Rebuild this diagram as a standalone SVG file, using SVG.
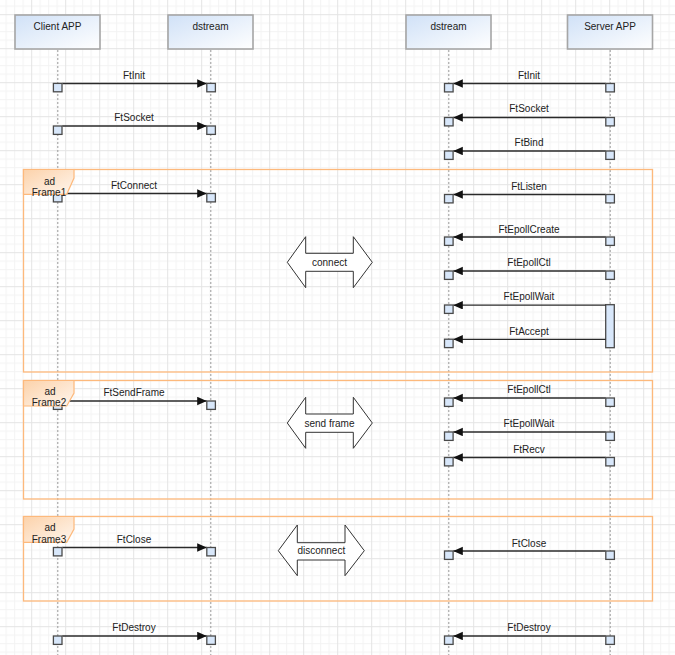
<svg xmlns="http://www.w3.org/2000/svg" width="675" height="655" viewBox="0 0 675 655">
<style>
text{font-family:"Liberation Sans",Arial,sans-serif;font-size:10px;fill:#222;text-anchor:middle}
.hdr{fill:url(#boxg);stroke:#a6a6a6;stroke-width:1.6}
.life{stroke:#9a9a9a;stroke-width:1;stroke-dasharray:2,2;fill:none}
.frm{fill:none;stroke:#fdb97c;stroke-width:1.3}
.tab{fill:url(#tabg);stroke:#fdb97c;stroke-width:1.2}
.msg{stroke:#2a2a2a;stroke-width:1.3;fill:none;marker-end:url(#ah)}
.sq{fill:#d8e7fa;stroke:#4a4a4a;stroke-width:1.3}
.dbl{fill:#fff;stroke:#333;stroke-width:1}
</style>
<defs>
<pattern id="grid" width="34" height="34" patternUnits="userSpaceOnUse" x="-2.8" y="14.2">
<rect width="34" height="34" fill="#fff"/>
<rect x="8.5" y="0" width="1" height="34" fill="#f3f3f3"/>
<rect x="17" y="0" width="1" height="34" fill="#f3f3f3"/>
<rect x="25.5" y="0" width="1" height="34" fill="#f3f3f3"/>
<rect x="0" y="8.5" width="34" height="1" fill="#f3f3f3"/>
<rect x="0" y="17" width="34" height="1" fill="#f3f3f3"/>
<rect x="0" y="25.5" width="34" height="1" fill="#f3f3f3"/>
<rect x="0" y="0" width="1" height="34" fill="#e4e4e4"/>
<rect x="0" y="0" width="34" height="1" fill="#e4e4e4"/>
</pattern>
<linearGradient id="boxg" x1="0" y1="0" x2="1" y2="1">
<stop offset="0" stop-color="#d0e1f7"/>
<stop offset="1" stop-color="#ffffff"/>
</linearGradient>
<linearGradient id="tabg" x1="0" y1="0" x2="1" y2="1">
<stop offset="0" stop-color="#fcd2aa"/>
<stop offset="1" stop-color="#fff6ee"/>
</linearGradient>
<marker id="ah" markerUnits="userSpaceOnUse" markerWidth="10" markerHeight="9" refX="9.5" refY="4.25" orient="auto">
<path d="M0,0 L9.5,4.25 L0,8.5 Z" fill="#111"/>
</marker>
</defs>
<rect width="675" height="655" fill="url(#grid)"/>

<g id="lifeline-client">
<rect class="hdr" x="15" y="15" width="85" height="34"/>
<text x="57.5" y="30.3">Client APP</text>
<line class="life" x1="57.8" y1="50" x2="57.8" y2="655"/>
</g>
<g id="lifeline-dstream-left">
<rect class="hdr" x="168" y="15" width="85" height="34"/>
<text x="210.5" y="30.3">dstream</text>
<line class="life" x1="210.8" y1="50" x2="210.8" y2="655"/>
</g>
<g id="lifeline-dstream-right">
<rect class="hdr" x="406" y="15" width="85" height="34"/>
<text x="448.5" y="30.3">dstream</text>
<line class="life" x1="448.8" y1="50" x2="448.8" y2="655"/>
</g>
<g id="lifeline-server">
<rect class="hdr" x="567.5" y="15" width="85" height="34"/>
<text x="610" y="30.3">Server APP</text>
<line class="life" x1="610.2" y1="50" x2="610.2" y2="655"/>
</g>

<g id="frame1-box"><rect class="frm" x="23.5" y="169.5" width="629" height="202.5"/></g>
<g id="frame2-box"><rect class="frm" x="23.5" y="380.5" width="629" height="118.5"/></g>
<g id="frame3-box"><rect class="frm" x="23.5" y="516.5" width="629" height="84.5"/></g>

<g id="activation-server">
<rect class="sq" x="605.7" y="304.7" width="8.6" height="43"/>
</g>

<g id="connectors">
<!-- client to dstream -->
<line class="msg" x1="62.3" y1="83.5" x2="206.7" y2="83.5"/>
<line class="msg" x1="62.3" y1="126" x2="206.7" y2="126"/>
<line class="msg" x1="62.3" y1="193.5" x2="206.7" y2="193.5"/>
<line class="msg" x1="62.3" y1="401" x2="206.7" y2="401"/>
<line class="msg" x1="62.3" y1="547.5" x2="206.7" y2="547.5"/>
<line class="msg" x1="62.3" y1="636" x2="206.7" y2="636"/>
<!-- server to dstream -->
<line class="msg" x1="605.7" y1="83.5" x2="453.3" y2="83.5"/>
<line class="msg" x1="605.7" y1="117.5" x2="453.3" y2="117.5"/>
<line class="msg" x1="605.7" y1="151" x2="453.3" y2="151"/>
<line class="msg" x1="605.7" y1="194.5" x2="453.3" y2="194.5"/>
<line class="msg" x1="605.7" y1="237" x2="453.3" y2="237"/>
<line class="msg" x1="605.7" y1="271" x2="453.3" y2="271"/>
<line class="msg" x1="605.7" y1="305.2" x2="453.3" y2="305.2"/>
<line class="msg" x1="605.7" y1="339.3" x2="453.3" y2="339.3"/>
<line class="msg" x1="605.7" y1="398" x2="453.3" y2="398"/>
<line class="msg" x1="605.7" y1="432" x2="453.3" y2="432"/>
<line class="msg" x1="605.7" y1="457.5" x2="453.3" y2="457.5"/>
<line class="msg" x1="605.7" y1="551" x2="453.3" y2="551"/>
<line class="msg" x1="605.7" y1="636" x2="453.3" y2="636"/>

<text x="134" y="78.5">FtInit</text>
<text x="134" y="121.3">FtSocket</text>
<text x="134" y="189.3">FtConnect</text>
<text x="134" y="396.3">FtSendFrame</text>
<text x="134" y="542.6">FtClose</text>
<text x="134" y="630.6">FtDestroy</text>

<text x="529" y="78.6">FtInit</text>
<text x="529" y="111.9">FtSocket</text>
<text x="529" y="145.9">FtBind</text>
<text x="529" y="190.3">FtListen</text>
<text x="529" y="232.6">FtEpollCreate</text>
<text x="529" y="266.3">FtEpollCtl</text>
<text x="529" y="300.3">FtEpollWait</text>
<text x="529" y="334.6">FtAccept</text>
<text x="529" y="392.9">FtEpollCtl</text>
<text x="529" y="426.9">FtEpollWait</text>
<text x="529" y="452.6">FtRecv</text>
<text x="529" y="546.6">FtClose</text>
<text x="529" y="630.6">FtDestroy</text>
</g>

<g id="execution-squares">
<rect class="sq" x="53.4" y="83.4" width="8.6" height="8.4"/>
<rect class="sq" x="206.8" y="83.4" width="8.6" height="8.4"/>
<rect class="sq" x="53.4" y="126" width="8.6" height="8.4"/>
<rect class="sq" x="206.8" y="126" width="8.6" height="8.4"/>
<rect class="sq" x="53.4" y="193.5" width="8.6" height="8.4"/>
<rect class="sq" x="206.8" y="193.5" width="8.6" height="8.4"/>
<rect class="sq" x="53.4" y="401" width="8.6" height="8.4"/>
<rect class="sq" x="206.8" y="401" width="8.6" height="8.4"/>
<rect class="sq" x="53.4" y="547.5" width="8.6" height="8.4"/>
<rect class="sq" x="206.8" y="547.5" width="8.6" height="8.4"/>
<rect class="sq" x="53.4" y="636" width="8.6" height="8.4"/>
<rect class="sq" x="206.8" y="636" width="8.6" height="8.4"/>

<rect class="sq" x="444.5" y="83.5" width="8.6" height="8.4"/>
<rect class="sq" x="605.8" y="83.5" width="8.6" height="8.4"/>
<rect class="sq" x="444.5" y="117.5" width="8.6" height="8.4"/>
<rect class="sq" x="605.8" y="117.5" width="8.6" height="8.4"/>
<rect class="sq" x="444.5" y="151" width="8.6" height="8.4"/>
<rect class="sq" x="605.8" y="151" width="8.6" height="8.4"/>
<rect class="sq" x="444.5" y="194.5" width="8.6" height="8.4"/>
<rect class="sq" x="605.8" y="194.5" width="8.6" height="8.4"/>
<rect class="sq" x="444.5" y="237" width="8.6" height="8.4"/>
<rect class="sq" x="605.8" y="237" width="8.6" height="8.4"/>
<rect class="sq" x="444.5" y="271" width="8.6" height="8.4"/>
<rect class="sq" x="605.8" y="271" width="8.6" height="8.4"/>
<rect class="sq" x="444.5" y="305" width="8.6" height="8.4"/>
<rect class="sq" x="444.5" y="339.2" width="8.6" height="8.4"/>
<rect class="sq" x="444.5" y="398" width="8.6" height="8.4"/>
<rect class="sq" x="605.8" y="398" width="8.6" height="8.4"/>
<rect class="sq" x="444.5" y="432" width="8.6" height="8.4"/>
<rect class="sq" x="605.8" y="432" width="8.6" height="8.4"/>
<rect class="sq" x="444.5" y="457.5" width="8.6" height="8.4"/>
<rect class="sq" x="605.8" y="457.5" width="8.6" height="8.4"/>
<rect class="sq" x="444.5" y="551" width="8.6" height="8.4"/>
<rect class="sq" x="605.8" y="551" width="8.6" height="8.4"/>
<rect class="sq" x="444.5" y="636" width="8.6" height="8.4"/>
<rect class="sq" x="605.8" y="636" width="8.6" height="8.4"/>
</g>

<g id="frame1-label">
<path class="tab" d="M23.5,169.5 H74 V178 L66.7,194.3 H23.5 Z"/>
<text x="49.5" y="184.6">ad</text>
<text x="49" y="195.6">Frame1</text>
</g>
<g id="frame2-label">
<path class="tab" d="M23.5,380.5 H74 V393 L66.7,406 H23.5 Z"/>
<text x="50" y="395.3">ad</text>
<text x="49" y="406.3">Frame2</text>
</g>
<g id="frame3-label">
<path class="tab" d="M23.5,516.5 H74 V529 L66.7,542.3 H23.5 Z"/>
<text x="50" y="531.3">ad</text>
<text x="49" y="542.6">Frame3</text>
</g>

<g id="connect">
<path class="dbl" d="M287.3,262.3 L305.7,236.7 V253.3 H353.3 V236.7 L372.3,262.3 L353.3,287.7 V271.3 H305.7 V287.7 Z"/>
<text x="329.5" y="265.8">connect</text>
</g>
<g id="send-frame">
<path class="dbl" d="M287.3,423 L305.7,397.3 V414 H353.3 V397.3 L372.3,423 L353.3,448.3 V432.3 H305.7 V448.3 Z"/>
<text x="329.5" y="426.5">send frame</text>
</g>
<g id="disconnect">
<path class="dbl" d="M278.3,550.7 L297.3,525 V542.7 H345 V525 L364.3,550.7 L345,575.7 V560 H297.3 V575.7 Z"/>
<text x="321.3" y="554.2">disconnect</text>
</g>
</svg>
